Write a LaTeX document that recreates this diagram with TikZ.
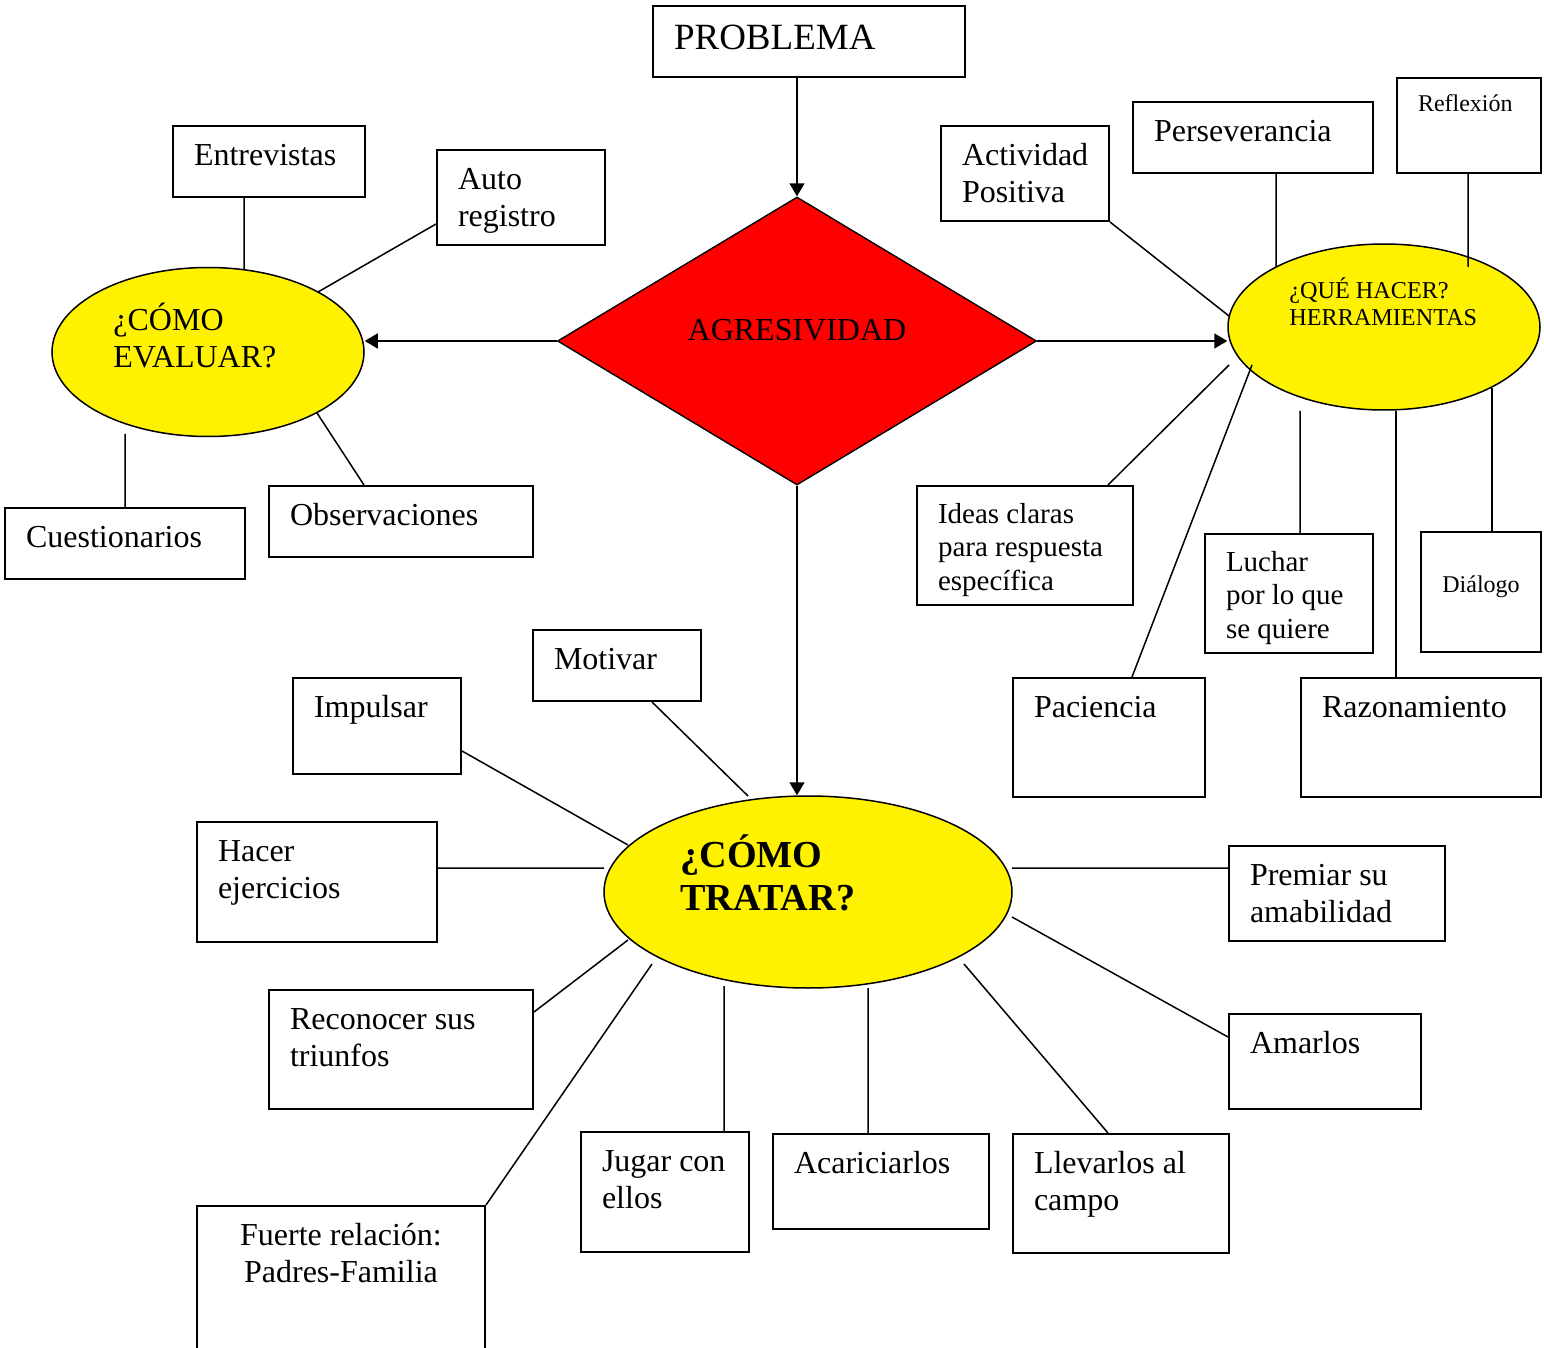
\documentclass[tikz,border=0pt]{standalone}
\usepackage{fontspec}
\setmainfont{Liberation Serif}
\usetikzlibrary{shapes.geometric,arrows.meta,calc}
\newdimen\px \px=0.5pt
\newcommand\tam[2]{\fontsize{#1pt}{#2pt}\selectfont}
\newcommand\txtcaja[3]{\parbox[t][\dimexpr#2\px-28\px\relax][t]{#1\px}{\leftskip=10.5pt\relax\strut#3}}
\begin{document}
\begin{tikzpicture}[>={Triangle[width=7.5pt,length=6.5pt]},x=0.5pt,y=-0.5pt,
	caja/.style={draw,line width=1pt,anchor=north west,inner xsep=0pt,inner ysep=7pt,font=\tam{16}{18.4}},
	elipse/.style={ellipse,draw,line width=0.75pt,fill=yellow,inner sep=0pt},
	texto/.style={anchor=base west,inner sep=0pt,font=\tam{16}{18.4}},
	linea/.style={line width=0.75pt}]
	\useasboundingbox (0,0) rectangle (1544,1348);
	% centro
	\node[diamond,draw,line width=0.7pt,fill=red,inner sep=0pt,minimum width=239.5pt,minimum height=144pt,font=\tam{16}{18.4},text height=10.6pt,text depth=10.6pt] (agresiv) at (797,341) {AGRESIVIDAD};
	\node[caja,font=\tam{18.5}{21.3}] (problema) at (652,5) {\txtcaja{312}{71}{PROBLEMA}};
	% como evaluar
	\node[elipse,minimum width=156pt,minimum height=84.5pt] (evaluar) at (208,352) {};
	\node[texto] (evaluartxt) at (113,331) {\parbox[t]{100pt}{¿CÓMO\\EVALUAR?}};
	\node[caja] (entrev) at (172,125) {\txtcaja{192}{71}{Entrevistas}};
	\node[caja] (autoreg) at (436,149) {\txtcaja{168}{95}{Auto\\registro}};
	\node[caja] (cuest) at (4,507) {\txtcaja{240}{71}{Cuestionarios}};
	\node[caja] (observ) at (268,485) {\txtcaja{264}{71}{Observaciones}};
	% que hacer
	\node[elipse,minimum width=156pt,minimum height=83pt] (herram) at (1384,327) {};
	\node[texto,font=\tam{12.1}{13.5}] (herramtxt) at (1289,299) {\parbox[t]{100pt}{¿QUÉ HACER?\\HERRAMIENTAS}};
	\node[caja] (activ) at (940,125) {\txtcaja{168}{95}{Actividad\\Positiva}};
	\node[caja] (persev) at (1132,101) {\txtcaja{240}{71}{Perseverancia}};
	\node[caja,font=\tam{12}{13.8}] (reflex) at (1396,77) {\txtcaja{144}{95}{Reflexión}};
	\node[caja,font=\tam{14.5}{16.7}] (ideas) at (916,485) {\txtcaja{216}{119}{Ideas claras\\para respuesta\\específica}};
	\node[caja,font=\tam{14.5}{16.7}] (luchar) at (1204,533) {\txtcaja{168}{119}{Luchar\\por lo que\\se quiere}};
	\node[caja,font=\tam{12}{13.8},minimum width=60pt,minimum height=60pt,text height=8pt,text depth=8pt] (dialog) at (1420,531) {Diálogo};
	\node[caja] (pacien) at (1012,677) {\txtcaja{192}{119}{Paciencia}};
	\node[caja] (razon) at (1300,677) {\txtcaja{240}{119}{Razonamiento}};
	% como tratar
	\node[elipse,minimum width=204pt,minimum height=96pt] (tratar) at (808,892) {};
	\node[texto,font=\bfseries\tam{19.1}{21.5}] (tratartxt) at (680,867) {\parbox[t]{120pt}{¿CÓMO\\TRATAR?}};
	\node[caja] (motiv) at (532,629) {\txtcaja{168}{71}{Motivar}};
	\node[caja] (impul) at (292,677) {\txtcaja{168}{96}{Impulsar}};
	\node[caja] (hacer) at (196,821) {\txtcaja{240}{120}{Hacer\\ejercicios}};
	\node[caja] (recon) at (268,989) {\txtcaja{264}{119}{Reconocer sus\\triunfos}};
	\node[caja] (fuerte) at (196,1205) {\txtcaja{288}{150}{\centering Fuerte relación:\\Padres-Familia}};
	\node[caja] (jugar) at (580,1131) {\txtcaja{168}{120}{Jugar con\\ellos}};
	\node[caja] (acaric) at (772,1133) {\txtcaja{216}{95}{Acariciarlos}};
	\node[caja] (llevar) at (1012,1133) {\txtcaja{216}{119}{Llevarlos al\\campo}};
	\node[caja] (amar) at (1228,1013) {\txtcaja{192}{95}{Amarlos}};
	\node[caja] (premi) at (1228,845) {\txtcaja{216}{95}{Premiar su\\amabilidad}};
	% flechas
	\draw[linea,->] (agresiv.north |- problema.south) -- (agresiv.north);
	\draw[linea,->] (agresiv.west) -- (agresiv.west -| evaluar.east);
	\draw[linea,->] (agresiv.east) -- (agresiv.east -| herram.west);
	\draw[linea,->] (agresiv.south) -- (agresiv.south |- tratar.north);
	% lineas a como evaluar
	\draw[linea] ($(entrev.south west)+(72,0)$) -- ($(evaluar.center)+(36,-82)$) ($(autoreg.south west)+(0,-22)$) -- ($(evaluar.center)+(110,-60)$);
	\draw[linea] ($(observ.north west)+(96,0)$) -- ($(evaluar.center)+(109,61)$) ($(cuest.north west)+(121,0)$) -- ($(evaluar.center)+(-83,82)$);
	% lineas a que hacer
	\draw[linea] (activ.south east) -- ($(herram.center)+(-155,-11)$) ($(persev.south west)+(144,0)$) -- ($(herram.center)+(-108,-60)$);
	\draw[linea] ($(reflex.south west)+(72,0)$) -- ($(herram.center)+(84,-60)$) ($(ideas.north west)+(192,0)$) -- ($(herram.center)+(-155,38)$);
	\draw[linea] ($(pacien.north west)+(120,0)$) -- ($(herram.center)+(-132,38)$) ($(luchar.north west)+(96,0)$) -- ($(herram.center)+(-84,84)$);
	\draw[linea] ($(razon.north west)+(96,0)$) -- ($(herram.center)+(12,84)$) ($(dialog.north west)+(72,0)$) -- ($(herram.center)+(108,61)$);
	% lineas a como tratar
	\draw[linea] ($(motiv.south west)+(120,0)$) -- ($(tratar.center)+(-60,-96)$) ($(impul.south east)+(0,-24)$) -- ($(tratar.center)+(-180,-47)$);
	\draw[linea] ($(hacer.north east)+(0,47)$) -- ($(tratar.center)+(-204,-24)$) ($(recon.north east)+(0,23)$) -- ($(tratar.center)+(-180,48)$);
	\draw[linea] (fuerte.north east) -- ($(tratar.center)+(-156,72)$) ($(jugar.north west)+(144,0)$) -- ($(tratar.center)+(-84,94)$);
	\draw[linea] ($(acaric.north west)+(96,0)$) -- ($(tratar.center)+(60,96)$) ($(llevar.north west)+(96,0)$) -- ($(tratar.center)+(156,72)$);
	\draw[linea] ($(amar.north west)+(0,24)$) -- ($(tratar.center)+(204,25)$) ($(premi.north west)+(0,23)$) -- ($(tratar.center)+(204,-24)$);
\end{tikzpicture}
\end{document}
